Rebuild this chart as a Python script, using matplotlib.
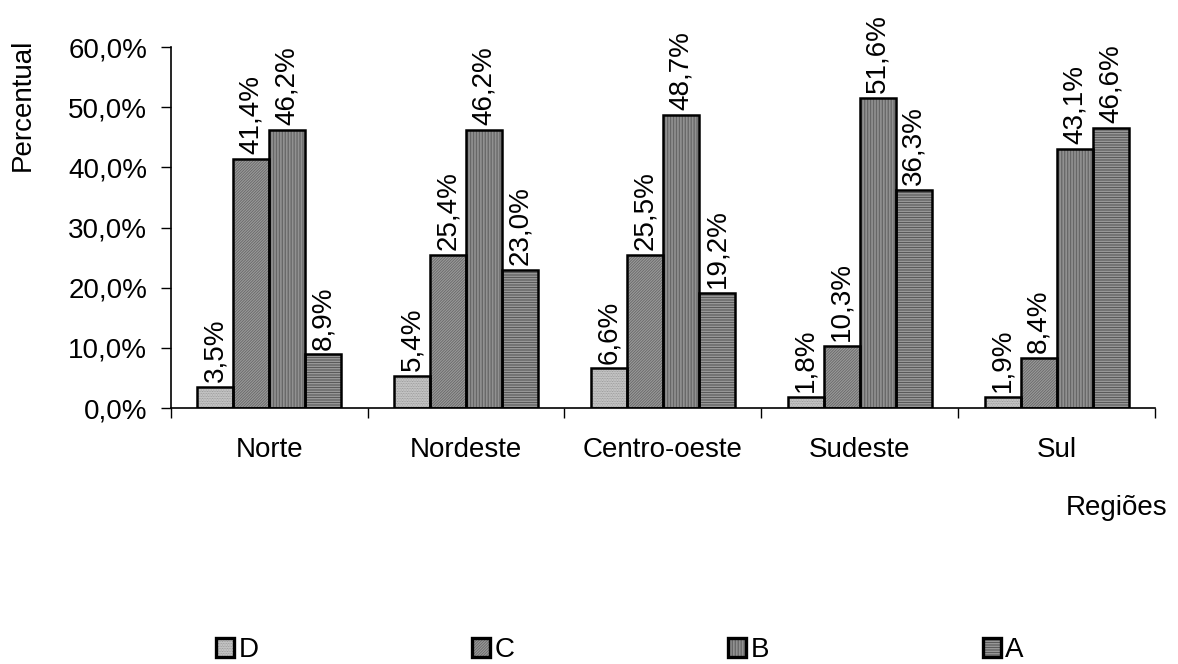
import numpy as np
import matplotlib
matplotlib.use('Agg')
import matplotlib.pyplot as plt
from matplotlib.patches import Patch
from matplotlib.legend_handler import HandlerTuple

plt.rcParams['font.family'] = ['Liberation Sans', 'DejaVu Sans']
plt.rcParams['hatch.linewidth'] = 0.6

regioes = ['Norte', 'Nordeste', 'Centro-oeste', 'Sudeste', 'Sul']
classes = ['D', 'C', 'B', 'A']
valores = {
    'D': [3.5, 5.4, 6.6, 1.8, 1.9],
    'C': [41.4, 25.4, 25.5, 10.3, 8.4],
    'B': [46.2, 46.2, 48.7, 51.6, 43.1],
    'A': [8.9, 23.0, 19.2, 36.3, 46.6],
}
y_ticks = [0, 10, 20, 30, 40, 50, 60]

# fill, hatch pattern, hatch colour for each class
estilos = {
    'D': ('#d0d0d0', '..........', '#8c8c8c'),
    'C': ('#9a9a9a', '////////////', '#676767'),
    'B': ('#acacac', '|||||||||||', '#5a5a5a'),
    'A': ('#b0b0b0', '----------', '#4a4a4a'),
}

fs = 20

fig = plt.figure(figsize=(11.78, 6.64), dpi=100)
ax = fig.add_axes([0.145, 0.3855, 0.8355, 0.5435])

x = np.arange(len(regioes))
largura = 0.183

for i, c in enumerate(classes):
    pos = x + (i - 1.5) * largura
    face, hatch, hcor = estilos[c]
    ax.bar(pos, valores[c], largura, color=face, hatch=hatch,
           edgecolor=hcor, linewidth=0, zorder=2)
    ax.bar(pos, valores[c], largura, fill=False, edgecolor='black',
           linewidth=1.8, zorder=3)
    for px, v in zip(pos, valores[c]):
        ax.text(px, v + 0.8, ('%.1f%%' % v).replace('.', ','), rotation=90,
                ha='center', va='bottom', fontsize=fs)

ax.set_xlim(-0.5, len(regioes) - 0.5)
ax.set_ylim(0, 60)
ax.set_yticks(y_ticks)
ax.set_yticklabels([('%.1f%%' % t).replace('.', ',') for t in y_ticks], fontsize=fs)
ax.set_xticks(x)
ax.set_xticklabels(regioes, fontsize=fs)
ax.set_xticks(np.arange(len(regioes) + 1) - 0.5, minor=True)
ax.tick_params(axis='x', which='major', length=0, pad=21)
ax.tick_params(axis='x', which='minor', length=7, width=1, direction='out')
ax.tick_params(axis='y', length=7, width=1, direction='out', pad=10)

for s in ['top', 'right']:
    ax.spines[s].set_visible(False)
for s in ['left', 'bottom']:
    ax.spines[s].set_linewidth(1.2)

fig.text(0.0195, 0.842, 'Percentual', rotation=90, ha='center', va='center', fontsize=fs)
fig.text(0.991, 0.235, 'Regiões', ha='right', va='center', fontsize=fs)

# legend keys: hatched fill under a thick black frame
handles = []
for c in classes:
    face, hatch, hcor = estilos[c]
    fundo = Patch(facecolor=face, hatch=hatch, edgecolor=hcor, linewidth=0)
    borda = Patch(fill=False, edgecolor='black', linewidth=2.4)
    handles.append((fundo, borda))
fig.legend(handles=handles, labels=classes, ncol=4, loc='center left',
           bbox_to_anchor=(0.174, 0.021), frameon=False, fontsize=fs,
           handlelength=0.65, handleheight=0.65, handletextpad=0.15,
           columnspacing=7.7, borderaxespad=0,
           handler_map={tuple: HandlerTuple(ndivide=1, pad=0)})

fig.savefig('out.png', dpi=100)
